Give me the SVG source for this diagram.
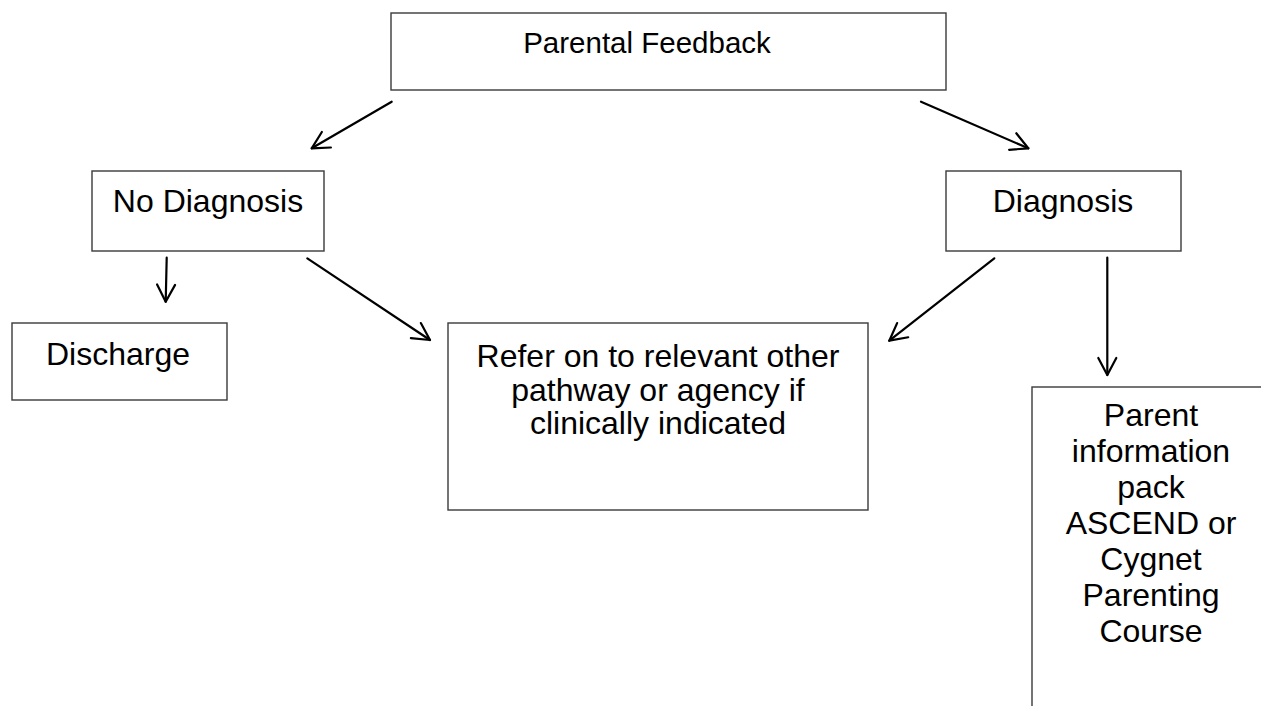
<svg xmlns="http://www.w3.org/2000/svg" width="1261" height="706" viewBox="0 0 1261 706">
<style>
.box{fill:#fff;stroke:#3a3a3a;stroke-width:1.4}
.t{font-family:"Liberation Sans",Arial,sans-serif;font-size:32px;fill:#000;text-anchor:middle}
.c{fill:none;stroke:#000;stroke-width:2.2;stroke-linecap:round}
</style>
<defs>
<marker id="ah" markerUnits="userSpaceOnUse" markerWidth="24" markerHeight="24" viewBox="-20 -12 24 24" refX="0" refY="0" orient="auto">
<path d="M-17,-9 L0,0 L-17,9" fill="none" stroke="#000" stroke-width="2.2" stroke-linecap="round" stroke-linejoin="round"/>
</marker>
</defs>
<rect width="1261" height="706" fill="#fff"/>
<g id="parental-feedback">
<rect class="box" x="391" y="13" width="555" height="77"/>
<text class="t" x="647" y="53" style="font-size:29.5px">Parental Feedback</text>
</g>
<g id="no-diagnosis">
<rect class="box" x="92" y="171" width="232" height="80"/>
<text class="t" x="208" y="212">No Diagnosis</text>
</g>
<g id="diagnosis">
<rect class="box" x="946" y="171" width="235" height="80"/>
<text class="t" x="1063" y="212">Diagnosis</text>
</g>
<g id="discharge">
<rect class="box" x="12" y="323" width="215" height="77"/>
<text class="t" x="118" y="365">Discharge</text>
</g>
<g id="refer">
<rect class="box" x="448" y="323" width="420" height="187"/>
<text class="t" x="658" y="367">Refer on to relevant other</text>
<text class="t" x="658" y="400.5">pathway or agency if</text>
<text class="t" x="658" y="434">clinically indicated</text>
</g>
<g id="parent-info">
<rect class="box" x="1032" y="387" width="260" height="340"/>
<text class="t" x="1151" y="426">Parent</text>
<text class="t" x="1151" y="462">information</text>
<text class="t" x="1151" y="498">pack</text>
<text class="t" x="1151" y="534">ASCEND or</text>
<text class="t" x="1151" y="570">Cygnet</text>
<text class="t" x="1151" y="606">Parenting</text>
<text class="t" x="1151" y="642">Course</text>
</g>
<g id="connectors">
<line class="c" x1="391.7" y1="101.7" x2="311.7" y2="148.3" marker-end="url(#ah)"/>
<line class="c" x1="921" y1="101.7" x2="1028.3" y2="148.3" marker-end="url(#ah)"/>
<line class="c" x1="166.7" y1="257.7" x2="165.7" y2="301.7" marker-end="url(#ah)"/>
<line class="c" x1="307.3" y1="258.3" x2="430" y2="340" marker-end="url(#ah)"/>
<line class="c" x1="994.3" y1="258.3" x2="889.3" y2="340.7" marker-end="url(#ah)"/>
<line class="c" x1="1107.3" y1="257.7" x2="1107.3" y2="375" marker-end="url(#ah)"/>
</g>
</svg>
